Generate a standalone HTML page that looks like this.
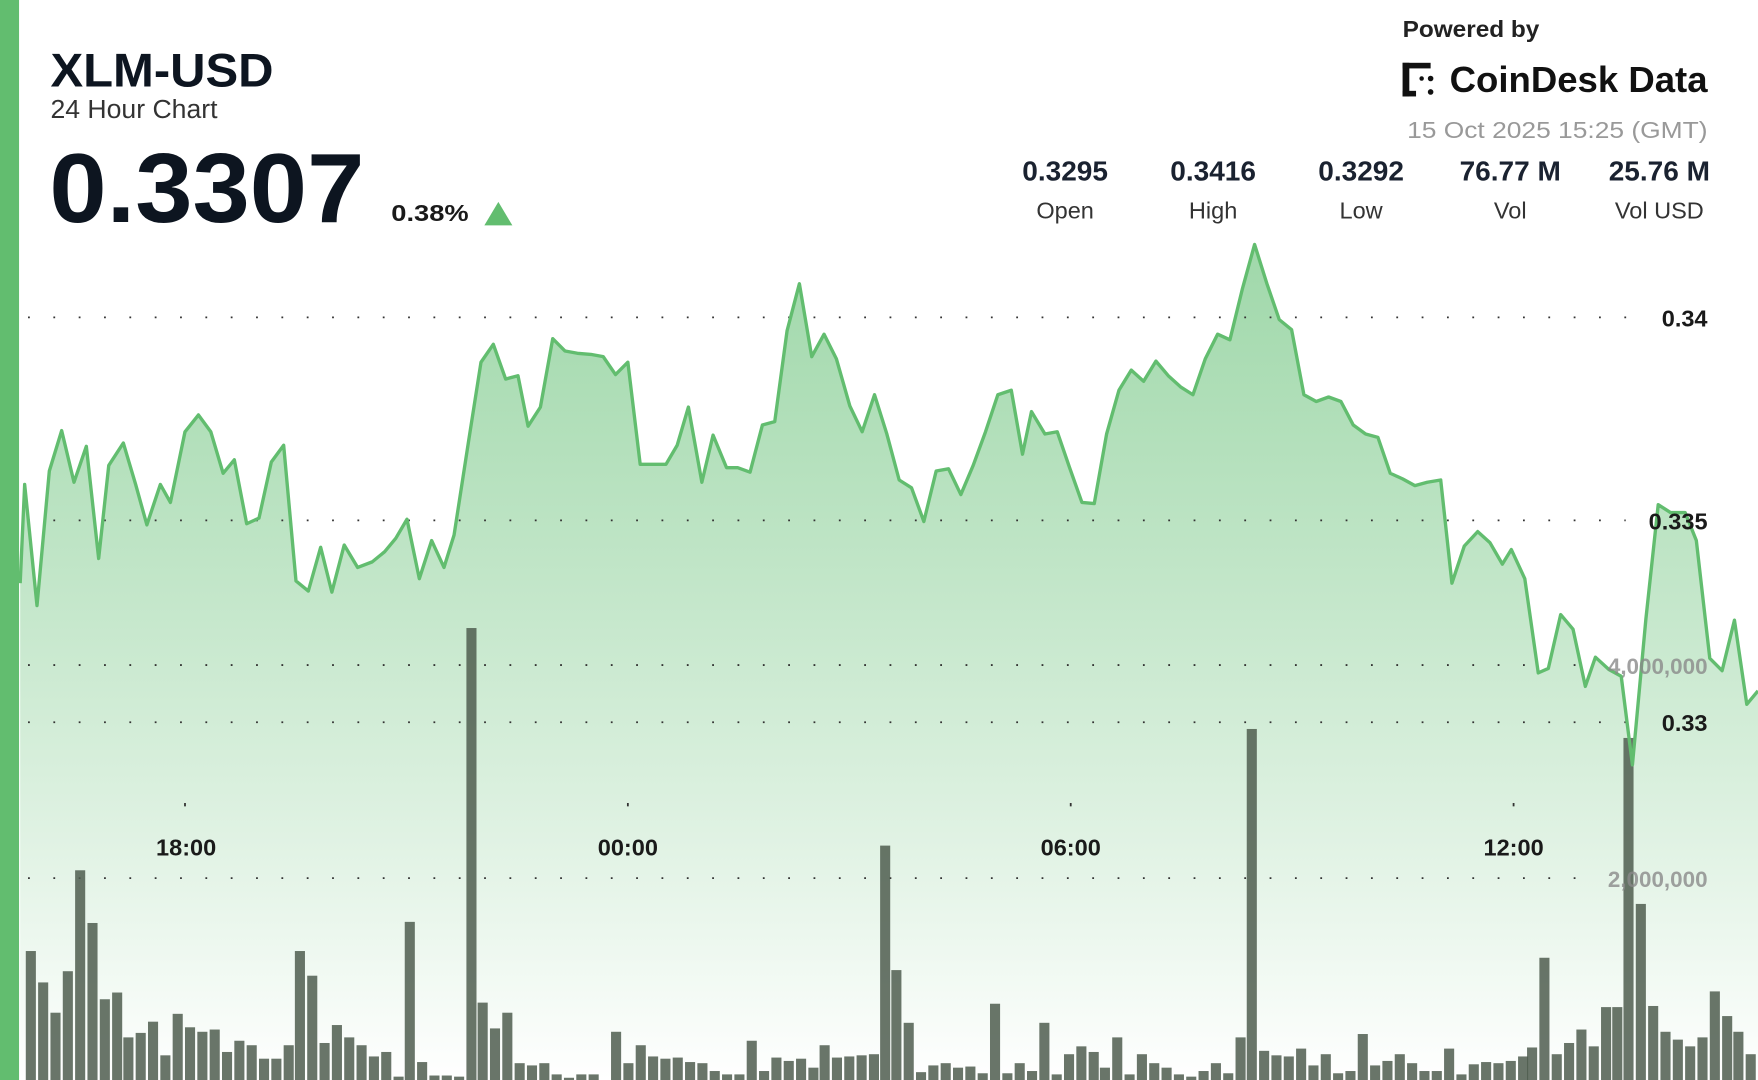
<!DOCTYPE html>
<html><head><meta charset="utf-8"><style>
html,body{margin:0;padding:0;background:#fff;}
svg{display:block;}
text{font-family:"Liberation Sans",sans-serif;}
</style></head><body>
<svg width="1758" height="1080" viewBox="0 0 1568 963" preserveAspectRatio="none" xmlns="http://www.w3.org/2000/svg">
<defs>
<linearGradient id="fill" x1="0" y1="218" x2="0" y2="963" gradientUnits="userSpaceOnUse">
<stop offset="0" stop-color="#8fd19b" stop-opacity="0.85"/>
<stop offset="1" stop-color="#ffffff" stop-opacity="1"/>
</linearGradient>
</defs>
<rect x="0" y="0" width="1568" height="963" fill="#fff"/>
<polygon fill="url(#fill)" points="18,963 18,520 22,432 33,540 44,420 55,384 66,430 77,398 88,498 97,415 110,395 121,432 131,468 143,432 152,448 165,385 177,370 188,385 199,422 209,410 220,467 231,462 242,412 253,397 264,518 275,527 286,488 296,528 307,486 319,506 332,501 343,492 353,480 363,463 374,516 385,482 396,506 405,477 418,393 429,323 440,307 451,338 462,335 471,380 482,363 493,302 504,313 515,315 527,316 538,318 549,334 560,323 571,414 582,414 594,414 604,397 614,363 626,430 636,388 648,417 658,417 669,421 680,379 691,376 702,295 713,253 724,318 735,298 746,320 758,362 769,385 780,352 791,387 802,428 813,435 824,465 835,420 846,418 857,441 868,415 879,385 890,352 902,348 912,405 920,367 932,387 943,385 954,417 965,448 976,449 987,387 998,348 1009,330 1020,340 1031,322 1042,335 1053,345 1064,352 1075,320 1086,298 1097,303 1108,258 1119,218 1130,253 1141,285 1152,294 1163,352 1174,358 1185,354 1196,358 1207,379 1218,387 1229,390 1240,422 1251,427 1262,433 1273,430 1285,428 1295,520 1306,487 1318,474 1329,484 1340,503 1348,490 1360,516 1372,600 1381,596 1392,548 1403,561 1414,612 1423,586 1435,597 1446,603 1456,682 1468,552 1479,450 1490,457 1503,457 1513,482 1525,587 1536,598 1547,553 1558,628 1568,616 1568,963"/>
<g stroke="#333" stroke-width="1.6" stroke-dasharray="1.6 21" fill="none">
<line x1="25" y1="283" x2="1465" y2="283"/>
<line x1="25" y1="464" x2="1450" y2="464"/>
<line x1="25" y1="593" x2="1410" y2="593"/>
<line x1="25" y1="644" x2="1465" y2="644"/>
<line x1="25" y1="783" x2="1410" y2="783"/>
</g>
<g stroke="#333" stroke-width="1.6">
<line x1="165" y1="716" x2="165" y2="719"/>
<line x1="560" y1="716" x2="560" y2="719"/>
<line x1="955" y1="716" x2="955" y2="719"/>
<line x1="1350" y1="716" x2="1350" y2="719"/>
</g>
<g fill="#4f5d4f" fill-opacity="0.85">
<rect x="23" y="848" width="9" height="115"/><rect x="34" y="876" width="9" height="87"/><rect x="45" y="903" width="9" height="60"/><rect x="56" y="866" width="9" height="97"/><rect x="67" y="776" width="9" height="187"/><rect x="78" y="823" width="9" height="140"/><rect x="89" y="891" width="9" height="72"/><rect x="100" y="885" width="9" height="78"/><rect x="110" y="925" width="9" height="38"/><rect x="121" y="921" width="9" height="42"/><rect x="132" y="911" width="9" height="52"/><rect x="143" y="941" width="9" height="22"/><rect x="154" y="904" width="9" height="59"/><rect x="165" y="916" width="9" height="47"/><rect x="176" y="920" width="9" height="43"/><rect x="187" y="918" width="9" height="45"/><rect x="198" y="938" width="9" height="25"/><rect x="209" y="928" width="9" height="35"/><rect x="220" y="932" width="9" height="31"/><rect x="231" y="944" width="9" height="19"/><rect x="242" y="944" width="9" height="19"/><rect x="253" y="932" width="9" height="31"/><rect x="263" y="848" width="9" height="115"/><rect x="274" y="870" width="9" height="93"/><rect x="285" y="930" width="9" height="33"/><rect x="296" y="914" width="9" height="49"/><rect x="307" y="925" width="9" height="38"/><rect x="318" y="932" width="9" height="31"/><rect x="329" y="942" width="9" height="21"/><rect x="340" y="938" width="9" height="25"/><rect x="351" y="960" width="9" height="3"/><rect x="361" y="822" width="9" height="141"/><rect x="372" y="947" width="9" height="16"/><rect x="383" y="959" width="9" height="4"/><rect x="394" y="959" width="9" height="4"/><rect x="405" y="960" width="9" height="3"/><rect x="416" y="560" width="9" height="403"/><rect x="426" y="894" width="9" height="69"/><rect x="437" y="917" width="9" height="46"/><rect x="448" y="903" width="9" height="60"/><rect x="459" y="948" width="9" height="15"/><rect x="470" y="950" width="9" height="13"/><rect x="481" y="948" width="9" height="15"/><rect x="492" y="958" width="9" height="5"/><rect x="503" y="961" width="9" height="2"/><rect x="514" y="958" width="9" height="5"/><rect x="525" y="958" width="9" height="5"/><rect x="545" y="920" width="9" height="43"/><rect x="556" y="948" width="9" height="15"/><rect x="567" y="932" width="9" height="31"/><rect x="578" y="942" width="9" height="21"/><rect x="589" y="944" width="9" height="19"/><rect x="600" y="943" width="9" height="20"/><rect x="611" y="947" width="9" height="16"/><rect x="622" y="948" width="9" height="15"/><rect x="633" y="955" width="9" height="8"/><rect x="644" y="958" width="9" height="5"/><rect x="655" y="958" width="9" height="5"/><rect x="666" y="928" width="9" height="35"/><rect x="677" y="955" width="9" height="8"/><rect x="688" y="943" width="9" height="20"/><rect x="699" y="946" width="9" height="17"/><rect x="710" y="944" width="9" height="19"/><rect x="721" y="952" width="9" height="11"/><rect x="731" y="932" width="9" height="31"/><rect x="742" y="943" width="9" height="20"/><rect x="753" y="942" width="9" height="21"/><rect x="764" y="941" width="9" height="22"/><rect x="775" y="940" width="9" height="23"/><rect x="785" y="754" width="9" height="209"/><rect x="795" y="865" width="9" height="98"/><rect x="806" y="912" width="9" height="51"/><rect x="817" y="956" width="9" height="7"/><rect x="828" y="950" width="9" height="13"/><rect x="839" y="948" width="9" height="15"/><rect x="850" y="952" width="9" height="11"/><rect x="861" y="951" width="9" height="12"/><rect x="872" y="957" width="9" height="6"/><rect x="883" y="895" width="9" height="68"/><rect x="894" y="957" width="9" height="6"/><rect x="905" y="948" width="9" height="15"/><rect x="916" y="955" width="9" height="8"/><rect x="927" y="912" width="9" height="51"/><rect x="938" y="958" width="9" height="5"/><rect x="949" y="940" width="9" height="23"/><rect x="960" y="933" width="9" height="30"/><rect x="971" y="938" width="9" height="25"/><rect x="981" y="952" width="9" height="11"/><rect x="992" y="925" width="9" height="38"/><rect x="1003" y="958" width="9" height="5"/><rect x="1014" y="940" width="9" height="23"/><rect x="1025" y="948" width="9" height="15"/><rect x="1036" y="952" width="9" height="11"/><rect x="1047" y="958" width="9" height="5"/><rect x="1058" y="960" width="9" height="3"/><rect x="1069" y="955" width="9" height="8"/><rect x="1080" y="948" width="9" height="15"/><rect x="1091" y="957" width="9" height="6"/><rect x="1102" y="925" width="9" height="38"/><rect x="1112" y="650" width="9" height="313"/><rect x="1123" y="937" width="9" height="26"/><rect x="1134" y="941" width="9" height="22"/><rect x="1145" y="942" width="9" height="21"/><rect x="1156" y="935" width="9" height="28"/><rect x="1167" y="950" width="9" height="13"/><rect x="1178" y="940" width="9" height="23"/><rect x="1189" y="957" width="9" height="6"/><rect x="1200" y="955" width="9" height="8"/><rect x="1211" y="922" width="9" height="41"/><rect x="1222" y="950" width="9" height="13"/><rect x="1233" y="946" width="9" height="17"/><rect x="1244" y="940" width="9" height="23"/><rect x="1255" y="948" width="9" height="15"/><rect x="1266" y="955" width="9" height="8"/><rect x="1277" y="955" width="9" height="8"/><rect x="1288" y="935" width="9" height="28"/><rect x="1299" y="958" width="9" height="5"/><rect x="1310" y="949" width="9" height="14"/><rect x="1321" y="947" width="9" height="16"/><rect x="1332" y="948" width="9" height="15"/><rect x="1343" y="946" width="9" height="17"/><rect x="1354" y="942" width="9" height="21"/><rect x="1362" y="934" width="9" height="29"/><rect x="1373" y="854" width="9" height="109"/><rect x="1384" y="940" width="9" height="23"/><rect x="1395" y="930" width="9" height="33"/><rect x="1406" y="918" width="9" height="45"/><rect x="1417" y="933" width="9" height="30"/><rect x="1428" y="898" width="9" height="65"/><rect x="1438" y="898" width="9" height="65"/><rect x="1448" y="658" width="9" height="305"/><rect x="1459" y="806" width="9" height="157"/><rect x="1470" y="897" width="9" height="66"/><rect x="1481" y="920" width="9" height="43"/><rect x="1492" y="927" width="9" height="36"/><rect x="1503" y="933" width="9" height="30"/><rect x="1514" y="925" width="9" height="38"/><rect x="1525" y="884" width="9" height="79"/><rect x="1536" y="906" width="9" height="57"/><rect x="1546" y="920" width="9" height="43"/><rect x="1557" y="940" width="9" height="23"/>
</g>
<polyline fill="none" stroke="#62bd6f" stroke-width="3" stroke-linejoin="round" points="18,520 22,432 33,540 44,420 55,384 66,430 77,398 88,498 97,415 110,395 121,432 131,468 143,432 152,448 165,385 177,370 188,385 199,422 209,410 220,467 231,462 242,412 253,397 264,518 275,527 286,488 296,528 307,486 319,506 332,501 343,492 353,480 363,463 374,516 385,482 396,506 405,477 418,393 429,323 440,307 451,338 462,335 471,380 482,363 493,302 504,313 515,315 527,316 538,318 549,334 560,323 571,414 582,414 594,414 604,397 614,363 626,430 636,388 648,417 658,417 669,421 680,379 691,376 702,295 713,253 724,318 735,298 746,320 758,362 769,385 780,352 791,387 802,428 813,435 824,465 835,420 846,418 857,441 868,415 879,385 890,352 902,348 912,405 920,367 932,387 943,385 954,417 965,448 976,449 987,387 998,348 1009,330 1020,340 1031,322 1042,335 1053,345 1064,352 1075,320 1086,298 1097,303 1108,258 1119,218 1130,253 1141,285 1152,294 1163,352 1174,358 1185,354 1196,358 1207,379 1218,387 1229,390 1240,422 1251,427 1262,433 1273,430 1285,428 1295,520 1306,487 1318,474 1329,484 1340,503 1348,490 1360,516 1372,600 1381,596 1392,548 1403,561 1414,612 1423,586 1435,597 1446,603 1456,682 1468,552 1479,450 1490,457 1503,457 1513,482 1525,587 1536,598 1547,553 1558,628 1568,616"/>
<g font-weight="bold" font-size="21" fill="#1a1a1a" text-anchor="end">
<text x="1523" y="291">0.34</text>
<text x="1523" y="472">0.335</text>
<text x="1523" y="652">0.33</text>
</g>
<g font-weight="bold" font-size="20" fill="#8a8a8a" fill-opacity="0.8" text-anchor="end">
<text x="1523" y="601">4,000,000</text>
<text x="1523" y="791">2,000,000</text>
</g>
<g font-weight="bold" font-size="21" fill="#1a1a1a" text-anchor="middle">
<text x="166" y="763">18:00</text>
<text x="560" y="763">00:00</text>
<text x="955" y="763">06:00</text>
<text x="1350" y="763">12:00</text>
</g>
<rect x="0" y="0" width="17" height="963" fill="#62bd6f"/>
<text x="45" y="77" font-size="42" font-weight="bold" fill="#0d1520" textLength="199" lengthAdjust="spacingAndGlyphs">XLM-USD</text>
<text x="45" y="105" font-size="23" fill="#333" textLength="149" lengthAdjust="spacingAndGlyphs">24 Hour Chart</text>
<text x="44" y="198" font-size="88" font-weight="bold" fill="#0d1520" textLength="281" lengthAdjust="spacingAndGlyphs">0.3307</text>
<text x="349" y="197" font-size="21" font-weight="bold" fill="#1a1a1a" textLength="69" lengthAdjust="spacingAndGlyphs">0.38%</text>
<polygon points="432,201 457,201 444.5,180" fill="#62bd6f"/>
<text x="1251" y="33" font-size="21" font-weight="bold" fill="#222" textLength="122" lengthAdjust="spacingAndGlyphs">Powered by</text>
<g fill="#111">
<rect x="1251" y="56" width="6" height="30"/><rect x="1251" y="56" width="25" height="5"/><rect x="1251" y="81" width="12" height="5"/>
<circle cx="1276" cy="70" r="2.5"/><circle cx="1276" cy="82" r="2.5"/><circle cx="1268" cy="70" r="2"/>
</g>
<text x="1293" y="82" font-size="32" font-weight="bold" fill="#111" textLength="230" lengthAdjust="spacingAndGlyphs">CoinDesk Data</text>
<text x="1255" y="123" font-size="21" fill="#999" textLength="268" lengthAdjust="spacingAndGlyphs">15 Oct 2025 15:25 (GMT)</text>
<g text-anchor="middle">
<g font-size="25" font-weight="bold" fill="#1a2230">
<text x="950" y="161">0.3295</text><text x="1082" y="161">0.3416</text><text x="1214" y="161">0.3292</text><text x="1347" y="161">76.77 M</text><text x="1480" y="161">25.76 M</text>
</g>
<g font-size="21" fill="#333">
<text x="950" y="195">Open</text><text x="1082" y="195">High</text><text x="1214" y="195">Low</text><text x="1347" y="195">Vol</text><text x="1480" y="195">Vol USD</text>
</g>
</g>
</svg>
</body></html>
